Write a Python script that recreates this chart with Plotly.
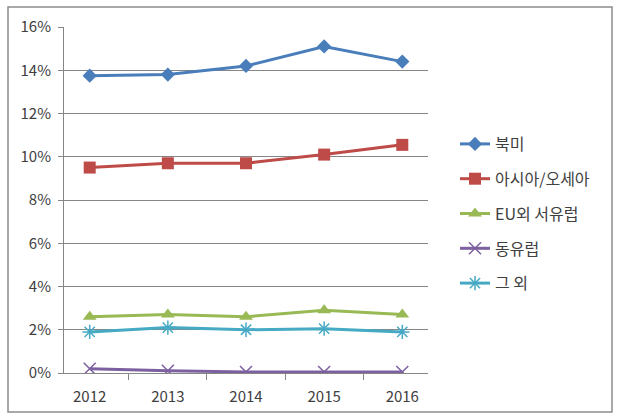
import plotly.graph_objects as go

years = ["2012", "2013", "2014", "2015", "2016"]
names = ["북미", "아시아/오세아", "EU외 서유럽", "동유럽", "그 외"]
north_america = [13.75, 13.8, 14.2, 15.1, 14.4]
asia_oceania = [9.5, 9.7, 9.7, 10.1, 10.55]
west_eu_non_eu = [2.6, 2.7, 2.6, 2.9, 2.7]
east_europe = [0.2, 0.1, 0.05, 0.05, 0.05]
others = [1.9, 2.1, 2.0, 2.05, 1.9]
y_ticks = [0, 2, 4, 6, 8, 10, 12, 14, 16]
y_tick_labels = [f"{v}%" for v in y_ticks]

series = [north_america, asia_oceania, west_eu_non_eu, east_europe, others]
colors = ["#4A7EBB", "#BE4B48", "#98B954", "#7D60A0", "#46AAC5"]
symbols = ["diamond", "square", "triangle-up", "x-thin", "asterisk"]
msizes = [11, 12, 12, 12, 12]

fig = go.Figure()
for i, (nm, vals) in enumerate(zip(names, series)):
    marker = dict(symbol=symbols[i], size=msizes[i], color=colors[i])
    if symbols[i] in ("x-thin", "asterisk"):
        marker["line"] = dict(color=colors[i], width=1.5)
    fig.add_trace(go.Scatter(
        x=years, y=vals, name=nm, mode="lines+markers",
        line=dict(color=colors[i], width=3),
        marker=marker, legendgroup=f"g{i}",
    ))

L, R, T, B = 64, 192, 27, 45
W, H = 620, 418
pw, ph = W - L - R, H - T - B

fig.update_layout(
    width=W, height=H,
    margin=dict(l=L, r=R, t=T, b=B),
    paper_bgcolor="white", plot_bgcolor="white",
    font=dict(family="Noto Sans CJK KR, sans-serif", size=15, color="#404040"),
    showlegend=True,
    legend=dict(x=(455 - L) / pw, y=(H - B - 127) / ph, xanchor="left", yanchor="top",
                tracegroupgap=11, font=dict(size=16, color="#404040"),
                bgcolor="rgba(0,0,0,0)"),
    xaxis=dict(type="category", showgrid=False, showline=True, linecolor="#868686",
               linewidth=1, ticks="outside", ticklen=6, tickcolor="#868686",
               tickson="boundaries", tickfont=dict(size=15, color="#404040"),
               ticklabelstandoff=10, zeroline=False),
    yaxis=dict(range=[0, 16], tickvals=y_ticks, ticktext=y_tick_labels,
               showgrid=True, gridcolor="#868686", gridwidth=1,
               showline=True, linecolor="#868686", linewidth=1,
               ticks="outside", ticklen=5, tickcolor="#868686",
               ticklabelstandoff=4,
               tickfont=dict(size=15, color="#404040"), zeroline=False),
    shapes=[dict(type="rect", xref="paper", yref="paper",
                 x0=(8 - L) / pw, x1=(612 - L) / pw,
                 y0=(H - B - 412) / ph, y1=(H - B - 7) / ph,
                 line=dict(color="#8C8C8C", width=1.5), fillcolor="rgba(0,0,0,0)",
                 layer="below")],
)

fig.write_html("out.html")
